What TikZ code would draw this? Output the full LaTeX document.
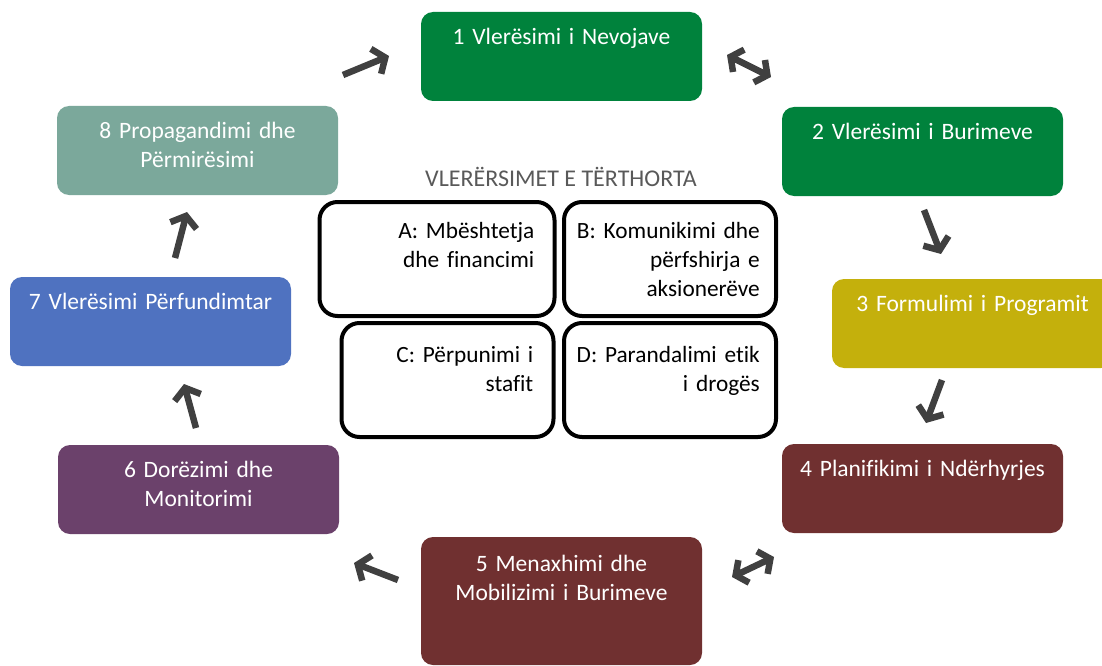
\documentclass[tikz,border=0pt]{standalone}
\usepackage{fontspec}
\setmainfont{Carlito}[Ligatures={NoCommon}]
\usetikzlibrary{arrows.meta}

\definecolor{phasegreen}{RGB}{0,130,60}
\definecolor{phaseolive}{RGB}{196,176,12}
\definecolor{phasebrown}{RGB}{112,48,48}
\definecolor{phasepurple}{RGB}{107,65,107}
\definecolor{phaseblue}{RGB}{79,114,192}
\definecolor{phaseteal}{RGB}{123,168,155}
\definecolor{arrowgray}{RGB}{64,64,64}
\definecolor{titlegray}{RGB}{89,89,89}

\begin{document}
\begin{tikzpicture}[x=1pt, y=-1pt,
        phase/.style={rounded corners=12pt, minimum width=281pt, minimum height=89pt, inner sep=0pt},
        phasetext/.style={anchor=base, text=white, align=center, text width=275pt, inner sep=0pt, font=\fontsize{23.5}{29}\selectfont},
        cross/.style={draw=black, line width=4pt, rounded corners=18pt, minimum width=212pt, minimum height=114pt, inner sep=0pt},
        crosstext/.style={anchor=base east, align=right, text width=210pt, inner sep=0pt, font=\fontsize{23.3}{29}\selectfont},
        flow/.style={draw=arrowgray, line width=6.5pt, -{Straight Barb[length=10pt, width=27pt]}},
        twoway/.style={draw=arrowgray, line width=6.5pt, {Straight Barb[length=9pt, width=25pt]}-{Straight Barb[length=9pt, width=25pt]}},
        ]
        \clip (0,0) rectangle (1102,666);

        % phases of the cycle
        \node[phase, fill=phasegreen]  at(561.5,56.5) (n1) {};
        \node[phase, fill=phasegreen]  at(922.5,151.5) (n2) {};
        \node[phase, fill=phaseolive]  at(972.5,323.5) (n3) {};
        \node[phase, fill=phasebrown]  at(922.5,488.5) (n4) {};
        \node[phase, fill=phasebrown, minimum height=128pt]  at(561.5,601) (n5) {};
        \node[phase, fill=phasepurple] at(198.5,489.5) (n6) {};
        \node[phase, fill=phaseblue]   at(150.5,321.5) (n7) {};
        \node[phase, fill=phaseteal]   at(197.5,150.5) (n8) {};

        \node[phasetext] at([yshift=-33pt]n1.north) (t1) {1 Vlerësimi i Nevojave};
        \node[phasetext] at([yshift=-33pt]n2.north) (t2) {2 Vlerësimi i Burimeve};
        \node[phasetext] at([yshift=-33pt]n3.north) (t3) {3 Formulimi i Programit};
        \node[phasetext] at([yshift=-33pt]n4.north) (t4) {4 Planifikimi i Ndërhyrjes};
        \node[phasetext] at([yshift=-35pt]n5.north) (t5) {5 Menaxhimi dhe\\Mobilizimi i Burimeve};
        \node[phasetext] at([yshift=-33pt]n6.north) (t6) {6 Dorëzimi dhe\\Monitorimi};
        \node[phasetext] at([yshift=-33pt]n7.north) (t7) {7 Vlerësimi Përfundimtar};
        \node[phasetext] at([yshift=-33pt]n8.north) (t8) {8 Propagandimi dhe\\Përmirësimi};

        % cross-cutting assessments
        \node[text=titlegray, font=\fontsize{24}{28}\selectfont] at(561,177) (title) {VLERËRSIMET E TËRTHORTA};
        \node[cross, minimum width=235pt] at(437,259) (A) {};
        \node[cross] at(670,259) (B) {};
        \node[cross] at(447.5,380) (C) {};
        \node[cross] at(670,380) (D) {};

        \node[crosstext] at([xshift=-22pt, yshift=-38pt]A.north east) (tA) {A: Mbështetja\\dhe financimi};
        \node[crosstext] at([xshift=-18pt, yshift=-38pt]B.north east) (tB) {B: Komunikimi dhe\\përfshirja e\\aksionerëve};
        \node[crosstext] at([xshift=-22pt, yshift=-41pt]C.north east) (tC) {C: Përpunimi i\\stafit};
        \node[crosstext] at([xshift=-18pt, yshift=-41pt]D.north east) (tD) {D: Parandalimi etik\\i drogës};

        % arrows between phases
        \coordinate (s81) at (343,75);  \coordinate (e81) at (389,56);
        \coordinate (s12) at (727,55);  \coordinate (e12) at (771,77);
        \coordinate (s23) at (924,210); \coordinate (e23) at (941,254);
        \coordinate (s34) at (942,380); \coordinate (e34) at (926,423);
        \coordinate (s45) at (774,557); \coordinate (e45) at (732,577);
        \coordinate (s56) at (398,580); \coordinate (e56) at (354,563);
        \coordinate (s67) at (196,428); \coordinate (e67) at (184,384);
        \coordinate (s78) at (175,258); \coordinate (e78) at (187,212);

        \draw[flow] (s81) -- (e81);
        \draw[twoway] (s12) -- (e12);
        \draw[flow] (s23) -- (e23);
        \draw[flow] (s34) -- (e34);
        \draw[twoway] (s45) -- (e45);
        \draw[flow] (s56) -- (e56);
        \draw[flow] (s67) -- (e67);
        \draw[flow] (s78) -- (e78);
\end{tikzpicture}
\end{document}
